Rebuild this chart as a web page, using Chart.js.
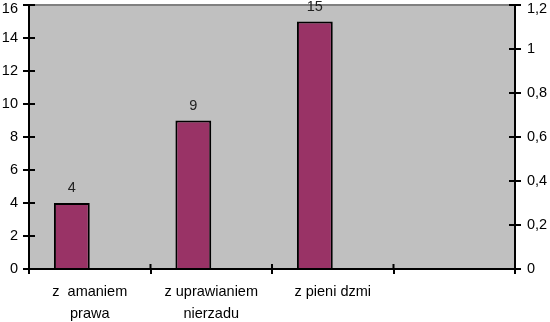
<!DOCTYPE html>
<html>
<head>
<meta charset="utf-8">
<style>
  html, body { margin: 0; padding: 0; background: #fff; }
  #chart { display: block; }
</style>
<script src="https://cdn.jsdelivr.net/npm/chart.js@4"></script>
</head>
<body>
<canvas id="chart" width="550" height="322"></canvas>
<script>
const categories = [['z  amaniem', 'prawa'], ['z uprawianiem', 'nierzadu'], 'z pieni dzmi', '']
const counts = [4, 9, 15, null]
const secondSeries = [null, null, null, null]
const leftTicks = { min: 0, max: 16, step: 2 }
const rightTicks = { min: 0, max: 1.2, step: 0.2 }

const canvas = document.getElementById('chart')
const font = { family: 'Liberation Sans, Arial, sans-serif', size: 14.5 }

// gray plot area with the gray line on top
const plotBackground = {
  id: 'plotBackground',
  beforeDraw(chart) {
    const { ctx, chartArea: a } = chart
    ctx.save()
    ctx.fillStyle = '#c0c0c0'
    ctx.fillRect(a.left, a.top, a.width, a.height)
    ctx.strokeStyle = '#808080'
    ctx.lineWidth = 2
    ctx.beginPath()
    ctx.moveTo(a.left, a.top)
    ctx.lineTo(a.right, a.top)
    ctx.stroke()
    ctx.restore()
  }
}

// tick marks cross the axes, chart.js only draws the outer half
const innerTicks = {
  id: 'innerTicks',
  afterDraw(chart) {
    const { ctx, chartArea: a, scales } = chart
    ctx.save()
    ctx.strokeStyle = '#000'
    ctx.lineWidth = 2
    ctx.beginPath()
    scales.y.ticks.forEach(t => {
      const y = scales.y.getPixelForValue(t.value)
      ctx.moveTo(a.left, y)
      ctx.lineTo(a.left + 6, y)
    })
    scales.y2.ticks.forEach(t => {
      const y = scales.y2.getPixelForValue(t.value)
      ctx.moveTo(a.right - 6, y)
      ctx.lineTo(a.right, y)
    })
    const n = categories.length
    for (let i = 0; i <= n; i++) {
      const x = scales.x.left + i * scales.x.width / n
      ctx.moveTo(x, a.bottom - 5)
      ctx.lineTo(x, a.bottom)
    }
    ctx.stroke()
    ctx.restore()
  }
}

// value above each bar
const barLabels = {
  id: 'barLabels',
  afterDatasetsDraw(chart) {
    const { ctx } = chart
    const meta = chart.getDatasetMeta(0)
    ctx.save()
    ctx.font = font.size + 'px ' + font.family
    ctx.fillStyle = '#222'
    ctx.textAlign = 'center'
    ctx.textBaseline = 'middle'
    meta.data.forEach((bar, i) => {
      if (counts[i] == null) return
      ctx.fillText(String(counts[i]), bar.x, bar.y - 15)
    })
    ctx.restore()
  }
}

// keep chart.js from pushing the plot down for half a tick label
function noVerticalPadding(s) {
  s.paddingTop = 0
  s.paddingBottom = 0
}

// the top label sits a little lower so it stays inside the canvas:
// an empty first line with a short line height shifts it down
const isTop = (value, max) => Math.abs(value - max) < 1e-9
function topLabel(label, value, max) {
  return isTop(value, max) ? ['', label] : label
}
function tickFont(max) {
  return c => (c.tick && isTop(c.tick.value, max)) ? { ...font, lineHeight: '7px' } : font
}

const config = {
  type: 'bar',
  data: {
    labels: categories,
    datasets: [{
      data: counts,
      backgroundColor: '#993366',
      borderColor: '#000',
      borderWidth: 2,
      yAxisID: 'y'
    }, {
      data: secondSeries,
      backgroundColor: '#993366',
      borderColor: '#000',
      borderWidth: 2,
      yAxisID: 'y2'
    }]
  },
  options: {
    responsive: false,
    animation: false,
    events: [],
    categoryPercentage: 0.59,
    barPercentage: 1,
    layout: { padding: { top: 5, left: 0, right: 0, bottom: 0 } },
    plugins: {
      legend: { display: false },
      tooltip: { enabled: false }
    },
    scales: {
      x: {
        grid: { display: true, drawOnChartArea: false, offset: true, color: '#000', lineWidth: 2, tickLength: 5 },
        border: { display: true, color: '#000', width: 2 },
        ticks: { color: '#000', font: { ...font, lineHeight: 1.5 }, padding: 7, maxRotation: 0, autoSkip: false },
        afterFit(s) { s.height = 53; s.paddingLeft = 0; s.paddingRight = 0 }
      },
      y: {
        position: 'left',
        min: leftTicks.min,
        max: leftTicks.max,
        grid: { display: true, drawOnChartArea: false, color: '#000', lineWidth: 2, tickLength: 6 },
        border: { display: true, color: '#000', width: 2 },
        ticks: {
          stepSize: leftTicks.step,
          color: '#000',
          font: tickFont(leftTicks.max),
          padding: 5,
          callback: v => topLabel(String(v), v, leftTicks.max)
        },
        afterFit(s) { s.width = 29; noVerticalPadding(s) }
      },
      y2: {
        position: 'right',
        min: rightTicks.min,
        max: rightTicks.max,
        grid: { display: true, drawOnChartArea: false, color: '#000', lineWidth: 2, tickLength: 6 },
        border: { display: true, color: '#000', width: 2 },
        ticks: {
          stepSize: rightTicks.step,
          color: '#000',
          font: tickFont(rightTicks.max),
          padding: 6,
          callback: v => topLabel(String(+v.toFixed(1)).replace('.', ','), v, rightTicks.max)
        },
        afterFit(s) { s.width = 35; noVerticalPadding(s) }
      }
    }
  },
  plugins: [plotBackground, innerTicks, barLabels]
}

const myChart = new Chart(canvas, config)
</script>
</body>
</html>
